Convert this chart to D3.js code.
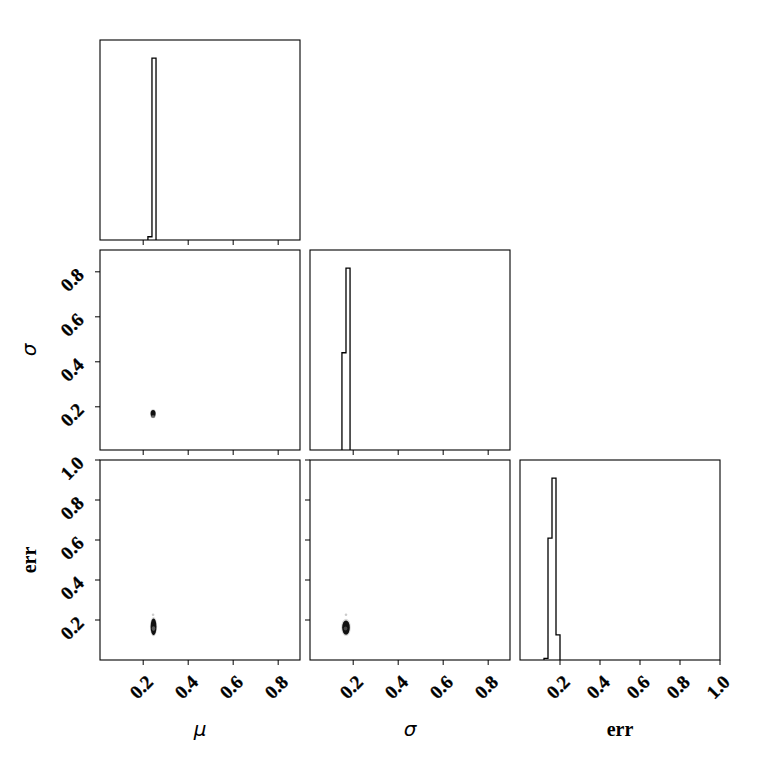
<!DOCTYPE html>
<html><head><meta charset="utf-8">
<script src="https://cdn.jsdelivr.net/npm/d3@7"></script>
<style>body{margin:0;background:#fff}</style>
</head><body><svg id="c" width="760" height="760"></svg>
<script>
// ---------- data ----------
const paramNames = ["μ", "σ", "err"];
const paramItalic = [true, true, false];
const muDomain = [0.008, 0.897];
const sigmaDomain = [0.008, 0.897];
const errDomain = [0, 1];
const muTicks = [0.2, 0.4, 0.6, 0.8];
const sigmaTicks = [0.2, 0.4, 0.6, 0.8];
const errTicks = [0.2, 0.4, 0.6, 0.8, 1.0];
const muTickLabels = ["0.2", "0.4", "0.6", "0.8"];
const sigmaTickLabels = ["0.2", "0.4", "0.6", "0.8"];
const errTickLabels = ["0.2", "0.4", "0.6", "0.8", "1.0"];

// 1D histograms (bin edges and counts)
const muHistEdges = [0.221, 0.239, 0.257];
const muHistCounts = [18, 1000];
const sigmaHistEdges = [0.150, 0.168, 0.186];
const sigmaHistCounts = [535, 1000];
const errHistEdges = [0.12, 0.14, 0.16, 0.18, 0.20];
const errHistCounts = [9, 670, 1000, 138];

// 2D density levels (centre, half-widths, shade)
const muSigmaLevels = [
  {x: 0.244, y: 0.169, rx: 0.013, ry: 0.020, shade: "#d0d0d0"},
  {x: 0.244, y: 0.170, rx: 0.011, ry: 0.016, shade: "#111"},
  {x: 0.244, y: 0.157, rx: 0.009, ry: 0.006, shade: "#666"}
];
const muErrLevels = [
  {x: 0.246, y: 0.167, rx: 0.016, ry: 0.048, shade: "#d8d8d8"},
  {x: 0.246, y: 0.166, rx: 0.013, ry: 0.042, shade: "#111"},
  {x: 0.246, y: 0.157, rx: 0.008, ry: 0.012, shade: "#555"}
];
const sigmaErrLevels = [
  {x: 0.168, y: 0.163, rx: 0.021, ry: 0.043, shade: "#d8d8d8"},
  {x: 0.168, y: 0.162, rx: 0.017, ry: 0.036, shade: "#111"},
  {x: 0.166, y: 0.158, rx: 0.008, ry: 0.010, shade: "#444"}
];
const muErrStray = [{x: 0.244, y: 0.226}];
const sigmaErrStray = [{x: 0.168, y: 0.226}];

// ---------- drawing ----------
const svg = d3.select("#c");
const size = 200, gap = 10, left0 = 100, top0 = 40;
const domains = [muDomain, sigmaDomain, errDomain];
const ticks = [muTicks, sigmaTicks, errTicks];
const tickLabels = [muTickLabels, sigmaTickLabels, errTickLabels];
const hists = [[muHistEdges, muHistCounts], [sigmaHistEdges, sigmaHistCounts], [errHistEdges, errHistCounts]];
const pairs = {"1,0": [muSigmaLevels, []], "2,0": [muErrLevels, muErrStray], "2,1": [sigmaErrLevels, sigmaErrStray]};
const serif = "'Liberation Serif','Times New Roman',serif";
const n = 3;
const tickFont = 19;

function panelX(col) { return left0 + col * (size + gap); }
function panelY(row) { return top0 + row * (size + gap); }
function styleTick(sel) {
  return sel.attr("text-anchor", "middle").attr("dominant-baseline", "central")
    .attr("font-family", serif).attr("font-weight", "bold").attr("font-size", tickFont)
    .attr("stroke", "#000").attr("stroke-width", 0.3);
}

for (let row = 0; row < n; row++) {
  for (let col = 0; col <= row; col++) {
    const px = panelX(col), py = panelY(row);
    const g = svg.append("g").attr("transform", `translate(${px},${py})`);
    const x = d3.scaleLinear().domain(domains[col]).range([0, size]);
    g.append("clipPath").attr("id", `cp${row}${col}`)
      .append("rect").attr("width", size).attr("height", size);
    const content = g.append("g").attr("clip-path", `url(#cp${row}${col})`);

    if (row === col) {
      const [edges, counts] = hists[col];
      const y = d3.scaleLinear().domain([0, 1.1 * d3.max(counts)]).range([size, 0]);
      const pts = [[edges[0], 0]];
      counts.forEach((c, i) => { pts.push([edges[i], c]); pts.push([edges[i + 1], c]); });
      pts.push([edges[edges.length - 1], 0]);
      content.append("path")
        .attr("d", d3.line().x(d => x(d[0])).y(d => y(d[1]))(pts))
        .attr("fill", "none").attr("stroke", "#000").attr("stroke-width", 1.3);
    } else {
      const y = d3.scaleLinear().domain(domains[row]).range([size, 0]);
      const [levels, stray] = pairs[`${row},${col}`];
      content.selectAll("circle.s").data(stray).join("circle")
        .attr("cx", d => x(d.x)).attr("cy", d => y(d.y)).attr("r", 1.3)
        .attr("fill", "#ccc");
      content.selectAll("ellipse").data(levels).join("ellipse")
        .attr("cx", d => x(d.x)).attr("cy", d => y(d.y))
        .attr("rx", d => x(d.x + d.rx) - x(d.x))
        .attr("ry", d => y(d.y - d.ry) - y(d.y))
        .attr("fill", d => d.shade);
      // y ticks (left)
      const yt = g.append("g");
      ticks[row].forEach((t, i) => {
        yt.append("line").attr("x1", 0).attr("x2", -5).attr("y1", y(t)).attr("y2", y(t))
          .attr("stroke", "#000").attr("stroke-width", 1);
        if (col === 0) {
          styleTick(yt.append("text").text(tickLabels[row][i])
            .attr("transform", `translate(-28,${y(t) + 8}) rotate(-45)`));
        }
      });
    }
    // x ticks (bottom)
    const xt = g.append("g");
    ticks[col].forEach((t, i) => {
      xt.append("line").attr("x1", x(t)).attr("x2", x(t)).attr("y1", size).attr("y2", size + 5)
        .attr("stroke", "#000").attr("stroke-width", 1);
      if (row === n - 1) {
        styleTick(xt.append("text").text(tickLabels[col][i])
          .attr("transform", `translate(${x(t) - 2},${size + 27}) rotate(-45)`));
      }
    });
    g.append("rect").attr("width", size).attr("height", size)
      .attr("fill", "none").attr("stroke", "#000").attr("stroke-width", 1.1);
  }
}

function axisLabel(sel, i) {
  if (paramItalic[i]) {
    sel.attr("font-family", "'DejaVu Sans',sans-serif").attr("font-style", "italic").attr("font-size", 20);
  } else {
    sel.attr("font-family", serif).attr("font-weight", "bold").attr("font-size", 20);
  }
  return sel;
}
// bottom labels
for (let c = 0; c < n; c++) {
  axisLabel(svg.append("text").text(paramNames[c])
    .attr("x", panelX(c) + size / 2).attr("y", 729)
    .attr("text-anchor", "middle").attr("dominant-baseline", "central"), c);
}
// left labels
for (let r = 1; r < n; r++) {
  axisLabel(svg.append("text").text(paramNames[r])
    .attr("transform", `translate(29,${panelY(r) + size / 2}) rotate(-90)`)
    .attr("text-anchor", "middle").attr("dominant-baseline", "central"), r);
}
</script></body></html>
